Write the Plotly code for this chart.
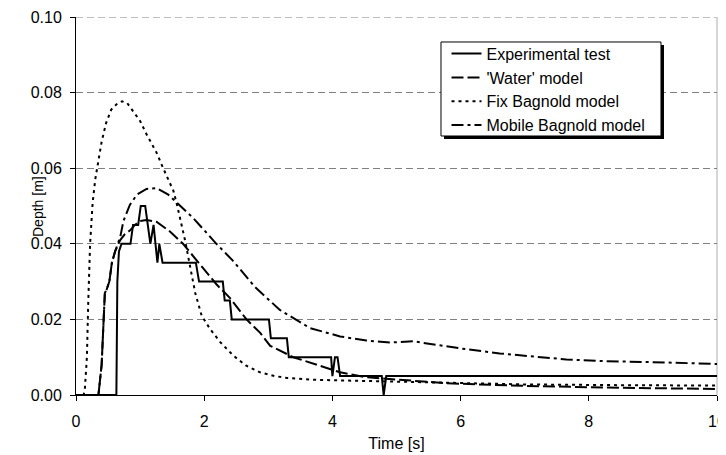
import plotly.graph_objects as go

# ---- data ----
exp_t = [0, 0.63, 0.645, 0.67, 0.71, 0.85, 0.89, 0.97, 1.01, 1.08, 1.16, 1.21, 1.27, 1.30, 1.35,
         1.87, 1.92, 2.29, 2.32, 2.40, 2.43, 3.01, 3.04, 3.29, 3.32, 3.98, 4.00, 4.04, 4.08, 4.12,
         4.77, 4.80, 4.84, 10]
exp_d = [0, 0, 0.030, 0.038, 0.040, 0.040, 0.045, 0.045, 0.050, 0.050, 0.040, 0.045, 0.035, 0.040, 0.035,
         0.035, 0.030, 0.030, 0.025, 0.025, 0.020, 0.020, 0.015, 0.015, 0.010, 0.010, 0.005, 0.010, 0.010, 0.005,
         0.005, 0.000, 0.005, 0.005]

water_t = [0, 0.35, 0.40, 0.43, 0.45, 0.48, 0.52, 0.56, 0.61, 0.69, 0.76, 0.84, 0.92, 1.00, 1.10, 1.26,
           1.41, 1.47, 1.67, 1.93, 2.19, 2.40, 2.66, 2.87, 3.03, 3.39, 3.75, 4.12, 4.53, 5.05, 5.78, 7.0, 8.5, 10]
water_d = [0, 0, 0.008, 0.019, 0.027, 0.028, 0.030, 0.035, 0.038, 0.041, 0.0425, 0.0435, 0.045, 0.046, 0.0463, 0.0458,
           0.0438, 0.0432, 0.040, 0.0345, 0.0293, 0.0257, 0.020, 0.0165, 0.0130, 0.0100, 0.0080, 0.0060, 0.0047, 0.0040,
           0.0031, 0.0024, 0.0019, 0.0016]

fix_t = [0, 0.12, 0.14, 0.17, 0.19, 0.22, 0.26, 0.30, 0.35, 0.40, 0.47, 0.55, 0.65, 0.72, 0.80, 0.90, 1.00,
         1.10, 1.26, 1.36, 1.45, 1.52, 1.58, 1.62, 1.70, 1.78, 1.86, 1.96, 2.09, 2.25, 2.45, 2.65, 2.87,
         3.10, 3.30, 3.75, 4.50, 5.05, 5.80, 7.0, 8.5, 10]
fix_d = [0, 0, 0.002, 0.010, 0.024, 0.040, 0.051, 0.057, 0.062, 0.067, 0.072, 0.0755, 0.0772, 0.0777, 0.0772, 0.075, 0.0725,
         0.069, 0.064, 0.060, 0.0565, 0.054, 0.050, 0.047, 0.041, 0.034, 0.027, 0.021, 0.0175, 0.014, 0.0105, 0.0078, 0.006,
         0.0050, 0.0045, 0.0040, 0.0037, 0.0035, 0.0031, 0.0028, 0.0026, 0.0025]

mob_t = [0, 0.35, 0.40, 0.43, 0.45, 0.48, 0.52, 0.56, 0.61, 0.69, 0.74, 0.84, 0.95, 1.10, 1.26, 1.44,
         1.57, 1.83, 2.19, 2.45, 2.79, 3.18, 3.65, 4.12, 4.53, 4.90, 5.26, 5.57, 6.09, 6.61, 7.13,
         7.65, 8.17, 8.69, 9.21, 10]
mob_d = [0, 0, 0.008, 0.019, 0.027, 0.028, 0.030, 0.035, 0.038, 0.0418, 0.046, 0.0503, 0.053, 0.0545, 0.0547, 0.053,
         0.051, 0.0468, 0.0400, 0.0355, 0.0286, 0.0225, 0.0177, 0.0155, 0.0144, 0.0139, 0.0142, 0.0134, 0.0121, 0.0110, 0.0102,
         0.0094, 0.0090, 0.0087, 0.0086, 0.0082]

names = ["Experimental test", "'Water' model", "Fix Bagnold model", "Mobile Bagnold model"]
x_ticks = [0, 2, 4, 6, 8, 10]
y_ticks = [0.00, 0.02, 0.04, 0.06, 0.08, 0.10]

FONT = "Liberation Sans, Arial, sans-serif"
FS = 16
GRID = dict(color="#808080", width=1, dash="7px,4px")

fig = go.Figure()
fig.add_trace(go.Scatter(x=exp_t, y=exp_d, mode="lines", name=names[0], legendgroup="a",
                         line=dict(color="black", width=2, dash="solid")))
fig.add_trace(go.Scatter(x=water_t, y=water_d, mode="lines", name=names[1], legendgroup="b",
                         line=dict(color="black", width=2, dash="12px,4px")))
fig.add_trace(go.Scatter(x=fix_t, y=fix_d, mode="lines", name=names[2], legendgroup="c",
                         line=dict(color="black", width=2, dash="3px,4px")))
fig.add_trace(go.Scatter(x=mob_t, y=mob_d, mode="lines", name=names[3], legendgroup="d",
                         line=dict(color="black", width=2, dash="12px,4px,3px,4px")))

# top gridline at the range end (plotly drops grid lines at the very edge)
fig.add_shape(type="line", xref="paper", yref="y", x0=0, x1=1, y0=y_ticks[-1], y1=y_ticks[-1],
              line=GRID, layer="below")
# light right border of plot area
fig.add_shape(type="line", xref="paper", yref="paper", x0=1, x1=1, y0=0, y1=1,
              line=dict(color="#c8c8c8", width=1.5), layer="below")
# legend frame and shadow (paper coordinates)
fig.add_shape(type="rect", xref="paper", yref="paper", x0=0.5741, x1=0.9173, y0=0.6772, y1=0.9259,
              fillcolor="black", line=dict(width=0), layer="above")
fig.add_shape(type="rect", xref="paper", yref="paper", x0=0.5694, x1=0.9126, y0=0.6852, y1=0.9339,
              fillcolor="white", line=dict(color="black", width=1), layer="above")

# y-axis title placed as rotated text
fig.add_annotation(text="Depth [m]", xref="paper", yref="paper", x=-0.0593, y=0.5,
                   xanchor="center", yanchor="middle", textangle=-90, showarrow=False,
                   font=dict(family=FONT, size=14, color="black"))

fig.update_layout(
    width=718, height=447,
    margin=dict(l=68, r=9, t=9, b=60, autoexpand=False),
    paper_bgcolor="white", plot_bgcolor="white",
    font=dict(family=FONT, size=FS, color="black"),
    showlegend=True,
    legend=dict(x=0.578, y=0.9479, xanchor="left", yanchor="top",
                bgcolor="rgba(0,0,0,0)", borderwidth=0,
                font=dict(family=FONT, size=FS, color="black"),
                traceorder="grouped", tracegroupgap=0),
    xaxis=dict(range=[0, 10], tickvals=x_ticks, ticktext=[str(v) for v in x_ticks],
               showgrid=False, zeroline=False, showline=True, linecolor="black", linewidth=1,
               ticks="outside", ticklen=5, tickcolor="black", automargin=True,
               ticklabelstandoff=7, ticklabeloverflow="allow",
               title=dict(text="Time [s]", font=dict(size=FS), standoff=8)),
    yaxis=dict(range=[0, 0.1], tickvals=y_ticks, ticktext=[f"{v:.2f}" for v in y_ticks],
               showgrid=True, gridcolor=GRID["color"], gridwidth=1, griddash=GRID["dash"],
               zeroline=False, showline=True, linecolor="black", linewidth=1,
               ticks="outside", ticklen=5, tickcolor="black", automargin=False,
               ticklabelstandoff=5, ticklabeloverflow="allow"),
)

fig.write_html("out.html")
